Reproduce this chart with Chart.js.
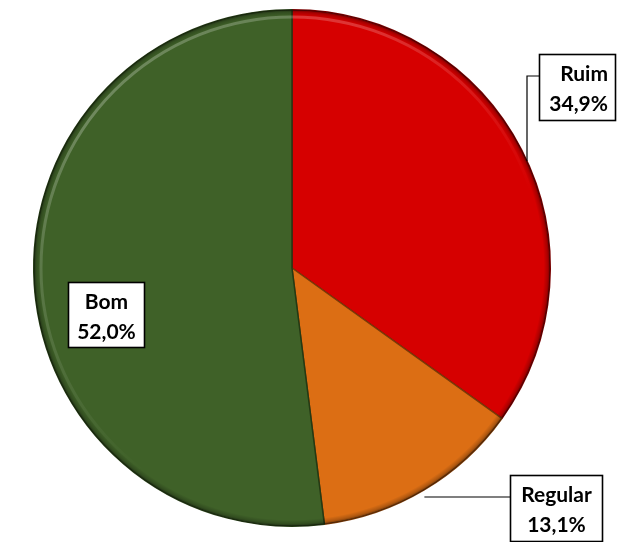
<!DOCTYPE html>
<html>
<head>
<meta charset="utf-8">
<script src="https://cdn.jsdelivr.net/npm/chart.js@4.4.0/dist/chart.umd.min.js"></script>
<style>
  html, body { margin: 0; padding: 0; background: #fff; }
  #wrap { width: 634px; height: 542px; }
</style>
</head>
<body>
<div id="wrap"><canvas id="myChart" width="634" height="542"></canvas></div>
<script>
// dados
const categorias = ["Ruim", "Regular", "Bom"];
const percentuais = [34.9, 13.1, 52.0];
const cores = ["#d60000", "#dc6e14", "#3f6128"];

function fmt(v) {
  return v.toLocaleString("pt-BR", { minimumFractionDigits: 1, maximumFractionDigits: 1 }) + "%";
}

// posição dos rótulos em relação ao centro (fração do raio)
const rotuloPos = [
  { dx: 1.104, dy: -0.697, w: 77, h: 67, align: "right", leader: "ruim" },
  { dx: 1.025, dy: 0.933, w: 93, h: 67, align: "center", leader: "regular" },
  { dx: -0.72, dy: 0.181, w: 77, h: 66, align: "center", leader: null }
];

// efeito de bisel na borda da pizza (luz vindo de cima/esquerda)
const bevelPlugin = {
  id: "bevel",
  afterDatasetsDraw(chart) {
    const arc = chart.getDatasetMeta(0).data[0];
    const { x, y, outerRadius: r } = arc;
    const ctx = chart.ctx;
    ctx.save();
    ctx.beginPath();
    ctx.arc(x, y, r, 0, Math.PI * 2);
    ctx.clip();
    // borda escura
    const g = ctx.createRadialGradient(x, y, 0, x, y, r);
    g.addColorStop(0, "rgba(0,0,0,0)");
    g.addColorStop(0.975, "rgba(0,0,0,0)");
    g.addColorStop(0.99, "rgba(0,0,0,0.2)");
    g.addColorStop(1, "rgba(0,0,0,0.5)");
    ctx.fillStyle = g;
    ctx.fillRect(x - r, y - r, 2 * r, 2 * r);
    // brilho no lado superior esquerdo, sumindo nas pontas
    const c = ctx.createConicGradient(Math.PI * 0.7, x, y);
    c.addColorStop(0, "rgba(255,255,255,0)");
    c.addColorStop(0.25, "rgba(255,255,255,0.25)");
    c.addColorStop(0.45, "rgba(255,255,255,0.2)");
    c.addColorStop(0.6, "rgba(255,255,255,0)");
    c.addColorStop(1, "rgba(255,255,255,0)");
    ctx.beginPath();
    ctx.arc(x, y, r * 0.972, 0, Math.PI * 2);
    ctx.strokeStyle = c;
    ctx.lineWidth = 3;
    ctx.stroke();
    ctx.restore();
  }
};

const labelPlugin = {
  id: "rotulos",
  afterDraw(chart) {
    const ctx = chart.ctx;
    const meta = chart.getDatasetMeta(0);
    const { x: cx, y: cy, outerRadius: r } = meta.data[0];
    ctx.save();
    rotuloPos.forEach((p, i) => {
      const bx = Math.round(cx + p.dx * r - p.w / 2);
      const by = Math.round(cy + p.dy * r - p.h / 2);

      // linha guia
      ctx.strokeStyle = "#000";
      ctx.lineWidth = 1.2;
      if (p.leader === "ruim") {
        const ly = by + 22;
        const lx = bx - 12;
        const ey = cy - Math.sqrt(r * r - (lx - cx) * (lx - cx));
        ctx.beginPath();
        ctx.moveTo(bx, ly);
        ctx.lineTo(lx, ly);
        ctx.lineTo(lx, ey);
        ctx.stroke();
      } else if (p.leader === "regular") {
        const ly = by + 22;
        const ex = cx + Math.sqrt(r * r - (ly - cy) * (ly - cy)) + 13;
        ctx.beginPath();
        ctx.moveTo(bx, ly);
        ctx.lineTo(ex, ly);
        ctx.stroke();
      }

      // caixa
      ctx.fillStyle = "#fff";
      ctx.fillRect(bx, by, p.w, p.h);
      ctx.lineWidth = 1.6;
      ctx.strokeRect(bx + 0.5, by + 0.5, p.w - 1, p.h - 1);

      // texto
      ctx.fillStyle = "#000";
      ctx.font = "bold 21px Lato";
      ctx.textBaseline = "alphabetic";
      let tx;
      if (p.align === "right") {
        ctx.textAlign = "right";
        tx = bx + p.w - 8;
      } else {
        ctx.textAlign = "center";
        tx = bx + p.w / 2;
      }
      ctx.fillText(categorias[i], tx, by + 27);
      ctx.fillText(fmt(percentuais[i]), tx, by + 57);
    });
    ctx.restore();
  }
};

const ctx = document.getElementById("myChart").getContext("2d");
const myChart = new Chart(ctx, {
  type: "pie",
  data: {
    labels: categorias,
    datasets: [
      {
        data: percentuais,
        backgroundColor: cores,
        borderColor: ["#7a0000", "#7a3a08", "#243a14"],
        borderWidth: 1.5,
      },
    ],
  },
  options: {
    responsive: false,
    animation: false,
    layout: { padding: { left: 33, right: 83, top: 9, bottom: 15 } },
    plugins: {
      legend: { display: false },
      tooltip: { enabled: false },
    },
  },
  plugins: [bevelPlugin, labelPlugin],
});
</script>
</body>
</html>
